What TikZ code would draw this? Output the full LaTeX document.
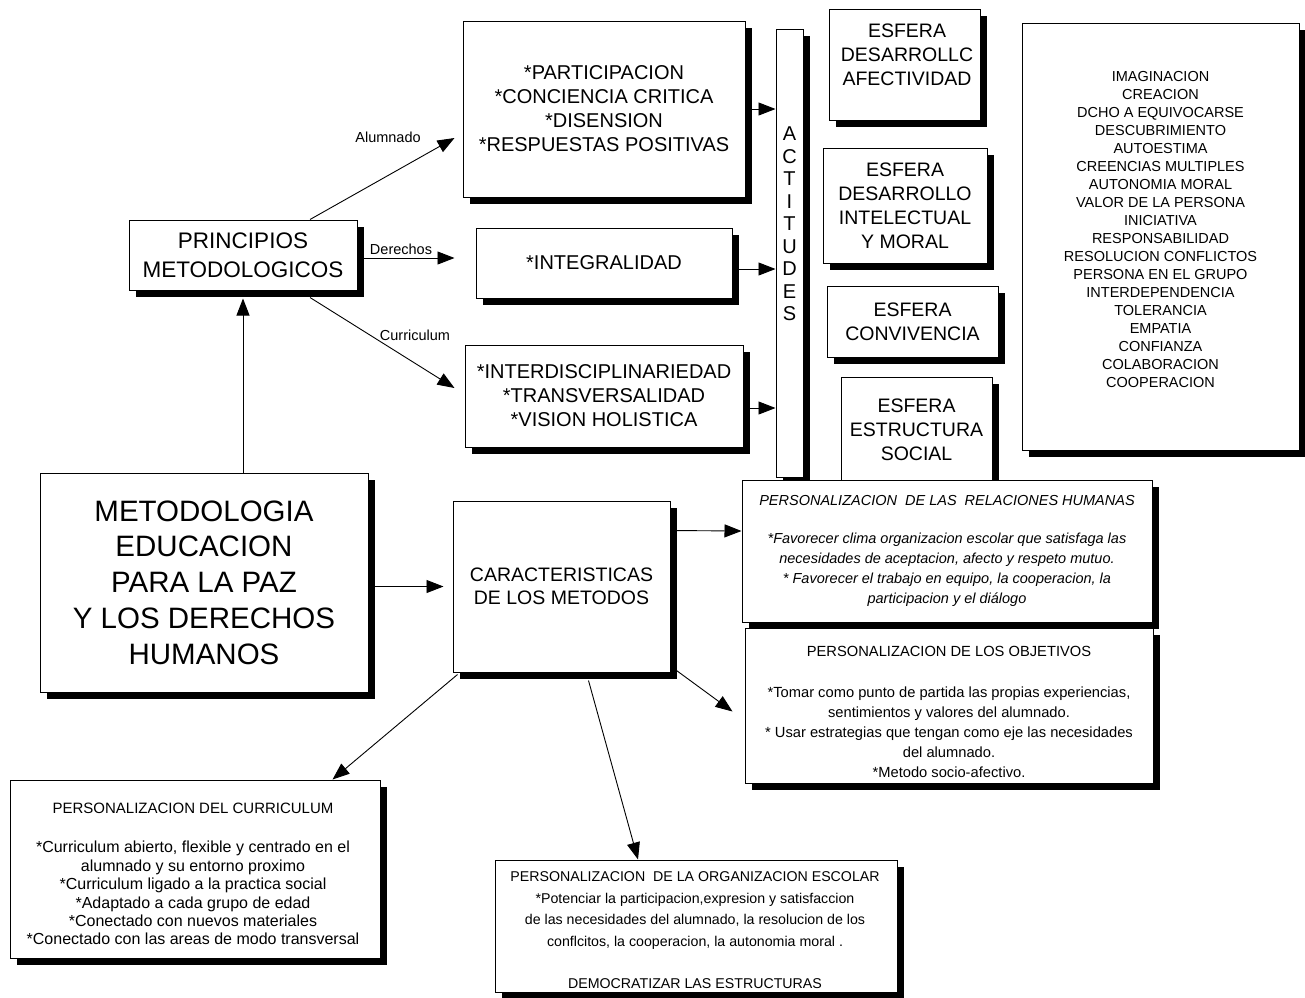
\documentclass[tikz,border=0pt]{standalone}
\usepackage{fontspec}
\setmainfont{Liberation Sans}
\usetikzlibrary{arrows.meta}
\usetikzlibrary{calc}
\usetikzlibrary{shadows}

\begin{document}
\begin{tikzpicture}[x=1pt,y=-1pt,
  caja/.style={draw,fill=white,line width=1pt,align=center,inner sep=0pt,
    drop shadow={shadow xshift=7pt,shadow yshift=-7pt,opacity=1,fill=black}},
  flecha/.style={line width=0.9pt,-{Triangle[length=17pt,width=13pt]}},
  etiq/.style={font=\fontsize{14.5}{17}\selectfont}]
  \useasboundingbox (0,0) rectangle (1305,997);

  % bloque principal y principios
  \node[caja,minimum width=328,minimum height=219,font=\fontsize{29.5}{35.7}\selectfont] (meto) at (204,582.5)
    {METODOLOGIA\\EDUCACION\\PARA LA PAZ\\Y LOS DERECHOS\\HUMANOS};
  \node[caja,minimum width=228,minimum height=70,font=\fontsize{22.5}{29.3}\selectfont] (princ) at (243,255)
    {PRINCIPIOS\\METODOLOGICOS};

  \node[caja,minimum width=282,minimum height=176,font=\fontsize{20}{24}\selectfont] (part) at (604,109)
    {*PARTICIPACION\\{}*CONCIENCIA CRITICA\\{}*DISENSION\\{}*RESPUESTAS POSITIVAS};
  \node[caja,minimum width=256,minimum height=70,font=\fontsize{20}{24}\selectfont] (integ) at (604,263)
    {*INTEGRALIDAD};
  \node[caja,minimum width=278,minimum height=102,font=\fontsize{20}{24}\selectfont] (inter) at (604,396)
    {*INTERDISCIPLINARIEDAD\\{}*TRANSVERSALIDAD\\{}*VISION HOLISTICA};

  % actitudes
  \node[caja,minimum width=27,minimum height=448] (act) at (789.5,253) {};
  \node[align=center,font=\fontsize{20}{22.5}\selectfont] (acttxt) at (789.5,224)
    {A\\C\\T\\I\\T\\U\\D\\E\\S};

  % esferas
  \node[caja,minimum width=151,minimum height=111] (esf1) at (904.5,64.5) {};
  \node[align=center,font=\fontsize{19.5}{24}\selectfont] (esf1txt) at (907,55)
    {ESFERA\\DESARROLLC\\AFECTIVIDAD};
  \node[caja,minimum width=164,minimum height=115,font=\fontsize{19.5}{24}\selectfont] (esf2) at (905,205.5)
    {ESFERA\\DESARROLLO\\INTELECTUAL\\Y MORAL};
  \node[caja,minimum width=171,minimum height=71,font=\fontsize{19.5}{24}\selectfont] (esf3) at (912.5,321.5)
    {ESFERA\\CONVIVENCIA};
  \node[caja,minimum width=151,minimum height=105,font=\fontsize{19.5}{24}\selectfont] (esf4) at (916.5,429.5)
    {ESFERA\\ESTRUCTURA\\SOCIAL};

  % valores
  \node[caja,minimum width=277,minimum height=427] (lista) at (1160.5,236.5) {};
  \node[align=center,font=\fontsize{14.5}{18}\selectfont] (listatxt) at (1160.5,229)
    {IMAGINACION\\CREACION\\DCHO A EQUIVOCARSE\\DESCUBRIMIENTO\\AUTOESTIMA\\CREENCIAS MULTIPLES\\
     AUTONOMIA MORAL\\VALOR DE LA PERSONA\\INICIATIVA\\RESPONSABILIDAD\\RESOLUCION CONFLICTOS\\
     PERSONA EN EL GRUPO\\INTERDEPENDENCIA\\TOLERANCIA\\EMPATIA\\CONFIANZA\\COLABORACION\\COOPERACION};

  % caracteristicas
  \node[caja,minimum width=217,minimum height=171,font=\fontsize{19.5}{23.5}\selectfont] (carac) at (561.5,586.5)
    {CARACTERISTICAS\\DE LOS METODOS};

  \node[caja,minimum width=410,minimum height=142,font=\fontsize{14.5}{20}\selectfont\itshape] (rel) at (947,551)
    {PERSONALIZACION\ \ DE LAS\ \ RELACIONES HUMANAS\\[18.3pt]
     {}*Favorecer clima organizacion escolar que satisfaga las\\
     necesidades de aceptacion, afecto y respeto mutuo.\\
     {}* Favorecer el trabajo en equipo, la cooperacion, la\\
     participacion y el diálogo};

  \node[caja,minimum width=408,minimum height=155] (obj) at (949,705.5) {};
  \node[align=center,font=\fontsize{14.7}{20}\selectfont] (objtxt) at (949,712)
    {PERSONALIZACION DE LOS OBJETIVOS\\[21.6pt]
     {}*Tomar como punto de partida las propias experiencias,\\
     sentimientos y valores del alumnado.\\
     {}* Usar estrategias que tengan como eje las necesidades\\
     del alumnado.\\
     {}*Metodo socio-afectivo.};

  \node[caja,minimum width=370,minimum height=178] (curr) at (195,869) {};
  \node[align=center,font=\fontsize{16}{18.4}\selectfont] (currtxt) at (193,874)
    {{\fontsize{15}{18.4}\selectfont PERSONALIZACION DEL CURRICULUM}\\[21pt]
     {}*Curriculum abierto, flexible y centrado en el\\
     alumnado y su entorno proximo\\
     {}*Curriculum ligado a la practica social\\
     {}*Adaptado a cada grupo de edad\\
     {}*Conectado con nuevos materiales\\
     {}*Conectado con las areas de modo transversal};

  \node[caja,minimum width=402,minimum height=132] (org) at (696,926) {};
  \node[align=center,font=\fontsize{14.2}{21.7}\selectfont] (orgtxt) at (695,930)
    {PERSONALIZACION\ \ DE LA ORGANIZACION ESCOLAR\\
     {}*Potenciar la participacion,expresion y satisfaccion\\
     de las necesidades del alumnado, la resolucion de los\\
     conflcitos, la cooperacion, la autonomia moral .\\[20pt]
     DEMOCRATIZAR LAS ESTRUCTURAS};

  % flechas
  \draw[flecha] ($(meto.north)+(39,0)$) -- ($(princ.south)+(0,8)$);
  \draw[flecha] ($(princ.north)+(67,0)$) -- ($(part.west)+(-8,29)$);
  \node[etiq] (lalum) at (388,137) {Alumnado};
  \draw[flecha] ($(princ.east)+(0,3)$) -- ($(integ.west)+(-21,-5)$);
  \node[etiq] (lder) at (401,249) {Derechos};
  \draw[flecha] ($(princ.south)+(67,7)$) -- ($(inter.west)+(-10,-8)$);
  \node[etiq] (lcur) at (415,335) {Curriculum};

  \draw[flecha] (part.east) -- (part.east -| act.west);
  \draw[flecha] ($(integ.east)+(0,6)$) -- ($(integ.east -| act.west)+(0,6)$);
  \draw[flecha] ($(inter.east)+(0,12)$) -- ($(inter.east -| act.west)+(0,12)$);

  \draw[flecha] (meto.east |- carac.west) -- ($(carac.west)+(-9,0)$);
  \draw[flecha] ($(carac.north east)+(0,30)$) -- ($(rel.west)+(0,-20)$);
  \draw[flecha] ($(carac.south east)+(6,-2)$) -- ($(obj.west)+(-12,6)$);
  \draw[flecha] ($(carac.south)+(27,8)$) -- ($(org.north)+(-58,0)$);
  \draw[flecha] ($(carac.south west)+(5,2)$) -- ($(curr.north east)+(-48,0)$);
\end{tikzpicture}
\end{document}
